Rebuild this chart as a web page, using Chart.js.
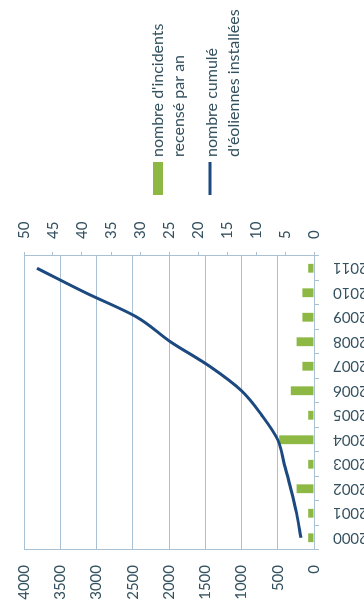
<!DOCTYPE html>
<html>
<head>
<meta charset="utf-8">
<script src="https://cdn.jsdelivr.net/npm/chart.js@4"></script>
<style>
  html, body { margin: 0; padding: 0; background: #fff; overflow: hidden; }
  body { width: 364px; height: 615px; position: relative; }
  /* chart is drawn landscape, then turned a quarter turn counter-clockwise */
  #wrap {
    position: absolute; left: 0; top: 0;
    width: 615px; height: 364px;
    transform-origin: 0 0;
    transform: translate(0, 615px) rotate(-90deg);
  }
</style>
</head>
<body>
<div id="wrap"><canvas id="chart" width="615" height="364"></canvas></div>
<script>
// Data
const years = ['2000', '2001', '2002', '2003', '2004', '2005', '2006', '2007', '2008', '2009', '2010', '2011'];
const incidents = [1, 1, 3, 1, 6, 1, 4, 2, 3, 2, 2, 1];
const turbines = [180, 240, 320, 410, 500, 720, 1000, 1440, 1980, 2440, 3150, 3820];
const incidentsLabel = ["nombre d'incidents", 'recensé par an'];
const turbinesLabel = ['nombre cumulé', "d'éoliennes installées"];

const textColor = '#34515f';
const gridColor = '#a9c1d3';
const green = '#8cb843';
const navy = '#1c4a80';

Chart.defaults.font.family = 'Lato';
Chart.defaults.font.size = 15;
Chart.defaults.color = textColor;

// Legend drawn on the right, two lines per entry
const sideLegend = {
    id: 'sideLegend',
    afterDraw(chart) {
        const ctx = chart.ctx;
        const sets = chart.data.datasets;
        ctx.save();
        ctx.font = '16px Lato';
        ctx.textBaseline = 'alphabetic';

        // bars entry
        ctx.fillStyle = sets[1].backgroundColor;
        ctx.fillRect(420, 153, 33, 10);
        ctx.fillStyle = textColor;
        sets[1].label.forEach((t, i) => ctx.fillText(t, 458, 163 + i * 21));

        // line entry
        ctx.strokeStyle = sets[0].borderColor;
        ctx.lineWidth = 3;
        ctx.beginPath();
        ctx.moveTo(420, 210);
        ctx.lineTo(453, 210);
        ctx.stroke();
        sets[0].label.forEach((t, i) => ctx.fillText(t, 458, 217 + i * 22));
        ctx.restore();
    }
};

const plain = v => String(v);

const ctx = document.getElementById('chart').getContext('2d');
new Chart(ctx, {
    type: 'bar',
    data: {
        labels: years,
        datasets: [{
            type: 'line',
            label: turbinesLabel,
            data: turbines,
            yAxisID: 'y',
            borderColor: navy,
            backgroundColor: navy,
            borderWidth: 3,
            cubicInterpolationMode: 'monotone',
            pointRadius: 0,
            order: 0
        }, {
            type: 'bar',
            label: incidentsLabel,
            data: incidents,
            yAxisID: 'y1',
            backgroundColor: green,
            categoryPercentage: 1,
            barPercentage: 0.36,
            order: 1
        }]
    },
    options: {
        responsive: false,
        animation: false,
        layout: { padding: { top: 24, right: 216, bottom: 0, left: 0 } },
        plugins: {
            legend: { display: false },
            tooltip: { enabled: false }
        },
        scales: {
            x: {
                offset: true,
                grid: { drawOnChartArea: false, tickLength: 5, color: gridColor },
                border: { color: gridColor },
                ticks: { minRotation: 90, maxRotation: 90, autoSkip: false, padding: 14 },
                afterFit: scale => { scale.height = 50; }
            },
            y: {
                position: 'left',
                min: 0,
                max: 4000,
                ticks: { stepSize: 500, padding: 15, callback: plain },
                grid: { color: gridColor, drawTicks: false },
                border: { color: gridColor },
                afterFit: scale => { scale.width = 65; }
            },
            y1: {
                position: 'right',
                min: 0,
                max: 50,
                ticks: { stepSize: 5, padding: 13, callback: plain },
                grid: { drawOnChartArea: false, tickLength: 4, color: gridColor },
                border: { color: gridColor },
                afterFit: scale => { scale.width = 40; }
            }
        }
    },
    plugins: [sideLegend]
});
</script>
</body>
</html>
